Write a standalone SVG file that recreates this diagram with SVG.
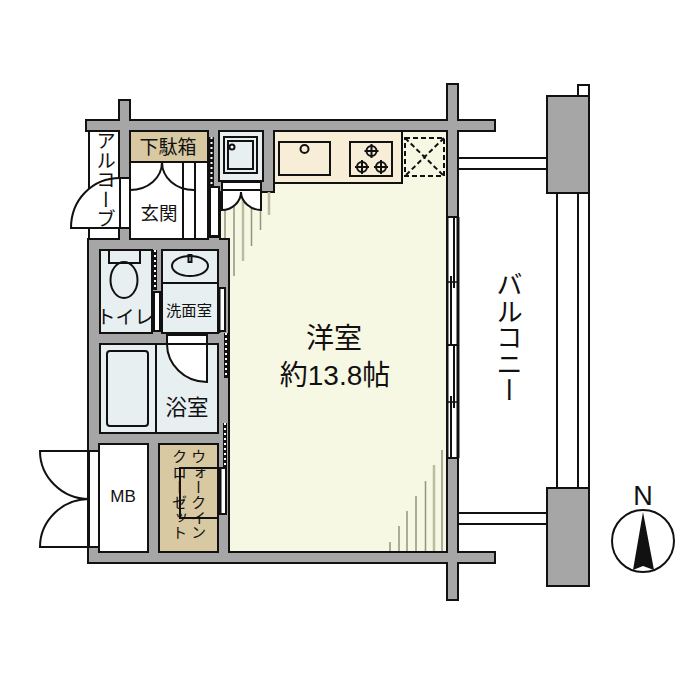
<svg xmlns="http://www.w3.org/2000/svg" width="700" height="700" viewBox="0 0 700 700">
<style>
.w{fill:#a6a6a6;stroke:#111;stroke-width:2}
.k{fill:none;stroke:#111;stroke-width:2}
.wh{fill:#fff;stroke:#111;stroke-width:2}
.wet{fill:#e8eff1;stroke:#111;stroke-width:2}
.tan{fill:#d9c9a3;stroke:#111;stroke-width:2}
.sh{stroke:#94947c;stroke-width:1.500;fill:none}
.shb{stroke:#bcbca4;stroke-width:2.500;fill:none}
.t{font-family:"Liberation Sans","Noto Sans CJK JP",sans-serif;fill:#111;text-anchor:middle}
.v{writing-mode:vertical-rl}
.dd{stroke:#fff;stroke-width:2;stroke-dasharray:2 3;fill:none}
</style>
<g id="walls">
<path class="w" d="M86 120H119V100H130V120H447V84H458V120H495V131H458V552H495V563H458V600H447V563H88V239H119V131H86Z"/>
</g>
<g id="balcony">
<path class="k" d="M458 158H547M458 169H547M458 513H547M458 524H547M557 193V488M578 193V488M589 193V488"/>
<rect class="wh" x="578" y="85" width="11" height="11"/>
<rect class="w" x="547" y="96" width="42" height="97"/>
<rect class="w" x="547" y="488" width="42" height="98"/>
</g>
<g id="room-western">
<path d="M220 192H274V131H447V552H229V239H220Z" fill="#f7f8e3" stroke="#111" stroke-width="2"/>
<path class="sh" d="M225 192V238M234 192V276M251.500 192V246M260.500 192V230M390 551V542M399 551V526M407 551V511M416 551V496M425.500 551V481M442 551V450"/>
<path class="shb" d="M243 192V261M269 192V215M434 551V465"/>
</g>
<g id="kitchen">
<rect x="274" y="131" width="128" height="52" fill="#f8eed8" stroke="#111" stroke-width="2"/>
<rect class="k" x="279" y="142" width="51" height="33"/>
<circle class="k" cx="304.500" cy="149" r="4"/>
<rect class="k" x="350" y="142" width="42" height="34"/>
<g class="k">
<circle cx="371.500" cy="151" r="5"/><path d="M371.500 144V158M364.500 151H378.500"/>
<circle cx="362" cy="167" r="5"/><path d="M362 160V174M355 167H369"/>
<circle cx="381" cy="167" r="5"/><path d="M381 160V174M374 167H388"/>
</g>
<path d="M405 138H444V176H405ZM405 138L444 176M444 138L405 176" fill="none" stroke="#111" stroke-width="2" stroke-dasharray="5 3"/>
</g>
<g id="washer">
<rect class="wet" x="219" y="131" width="44" height="50"/>
<rect class="k" x="224" y="137" width="33" height="36"/>
<rect class="k" x="228" y="141" width="25" height="28"/>
<circle class="wh" cx="232" cy="147" r="2.500"/>
<rect class="wh" x="222" y="182" width="39" height="8"/>
<path class="wh" d="M222 190V210C232 210 241 202 241 192C241 202 251 210 261 210V190Z"/>
</g>
<g id="alcove">
<rect class="wh" x="89" y="131" width="30" height="108"/>
<path class="wh" d="M120 228H71C71 200 92 178 120 178H130V228H120"/>
<path class="k" d="M120 178V228"/>
<text class="t v" x="104.500" y="131" font-size="19.500" style="text-anchor:start">アルコーブ</text>
</g>
<g id="entrance">
<rect class="wh" x="130" y="131" width="78" height="108"/>
<rect class="tan" x="130" y="131" width="78" height="31"/>
<path class="k" d="M130 190C148 190 162 178 162 162C162 178 176 190 194 190M183 162V239M195 162V239"/>
<text class="t" x="168" y="153.500" font-size="19">下駄箱</text>
<text class="t" x="159" y="219.500" font-size="18.500">玄関</text>
</g>
<g id="entrance-door">
<rect x="209" y="137" width="5" height="49" fill="#111"/>
<path class="dd" d="M211.500 137V186"/>
<rect x="209" y="186" width="11" height="52" fill="#111"/>
<rect x="211" y="188" width="7" height="47" fill="#fff"/>
</g>
<g id="toilet">
<rect class="wet" x="100" y="250" width="52" height="83"/>
<rect class="k" x="109" y="250" width="31" height="13"/>
<ellipse class="k" cx="124" cy="280" rx="13.500" ry="18"/>
<rect x="153" y="250" width="4" height="40" fill="#111"/>
<path class="dd" d="M155 250V290"/>
<rect class="wh" x="154" y="292" width="6" height="39"/>
<text class="t" x="125" y="323.500" font-size="19">トイレ</text>
</g>
<g id="washroom">
<rect class="wet" x="162" y="250" width="56" height="83"/>
<path class="k" d="M162 283H218"/>
<path d="M161 292V332" stroke="#111" stroke-width="3"/>
<ellipse class="k" cx="190" cy="266" rx="18" ry="10"/>
<rect class="k" x="188.500" y="255" width="3" height="7"/>
<rect class="wh" x="219" y="288" width="6" height="43"/>
<path d="M219 288V333" stroke="#111" stroke-width="3"/>
<rect x="224" y="333" width="4" height="45" fill="#111"/>
<path class="dd" d="M226 333V378"/>
<text class="t" x="189" y="315.500" font-size="15.300">洗面室</text>
</g>
<g id="bath">
<rect class="wet" x="100" y="344" width="118" height="89"/>
<path class="k" d="M156 344V433"/>
<rect class="k" x="107" y="351" width="41" height="75" rx="3"/>
<rect class="wh" x="167" y="335" width="40" height="9"/>
<path class="wh" d="M167 344C167 364 184 382 207 382V344Z"/>
<text class="t" x="187" y="415" font-size="21.500">浴室</text>
<rect x="223" y="423" width="4" height="45" fill="#111"/>
<path class="dd" d="M225 423V468"/>
</g>
<g id="mb">
<rect class="wh" x="99" y="444" width="49" height="108"/>
<rect class="wh" x="89" y="451" width="10" height="96"/>
<path class="k" d="M89 451H40C40 477 62 499 89 499C62 499 40 521 40 547H89"/>
<text x="123" y="502" font-size="17" font-family="Liberation Sans,sans-serif" text-anchor="middle" fill="#111">MB</text>
</g>
<g id="closet">
<rect class="tan" x="159" y="444" width="59" height="108"/>
<rect class="k" x="180" y="468" width="38" height="50"/>
<rect class="wh" x="220" y="468" width="6" height="46"/>
<path d="M220 468V514" stroke="#111" stroke-width="3"/>
<text class="t v" x="197" y="449" font-size="15.200" style="text-anchor:start">ウォークイン</text>
<text class="t v" x="178" y="449" font-size="15.200" style="text-anchor:start">クローゼット</text>
</g>
<g id="window">
<rect x="448" y="217" width="10" height="241" fill="#fff"/>
<path class="k" d="M447.500 217V458M447 217H458M447 345H458M447 458H458M454 217V288M451 276V345M454 345V408M451 396V458"/>
<path d="M447 282H458M447 402H458" stroke="#111" stroke-width="1.500"/>
<path d="M458 217V458" stroke="#111" stroke-width="3"/>
</g>
<g id="labels">
<text class="t" x="334" y="348" font-size="28">洋室</text>
<text class="t" x="335" y="385" font-size="28">約13.8帖</text>
<text class="t v" x="507" y="271" font-size="26.500" style="text-anchor:start">バルコニー</text>
</g>
<g id="north">
<circle cx="643" cy="541" r="31" fill="#fff" stroke="#111" stroke-width="2"/>
<path d="M643 512L654 570L643 566L633 570Z" fill="#111"/>
<text x="643" y="505" font-size="27" font-family="Liberation Sans,sans-serif" text-anchor="middle" fill="#111">N</text>
</g>
</svg>
